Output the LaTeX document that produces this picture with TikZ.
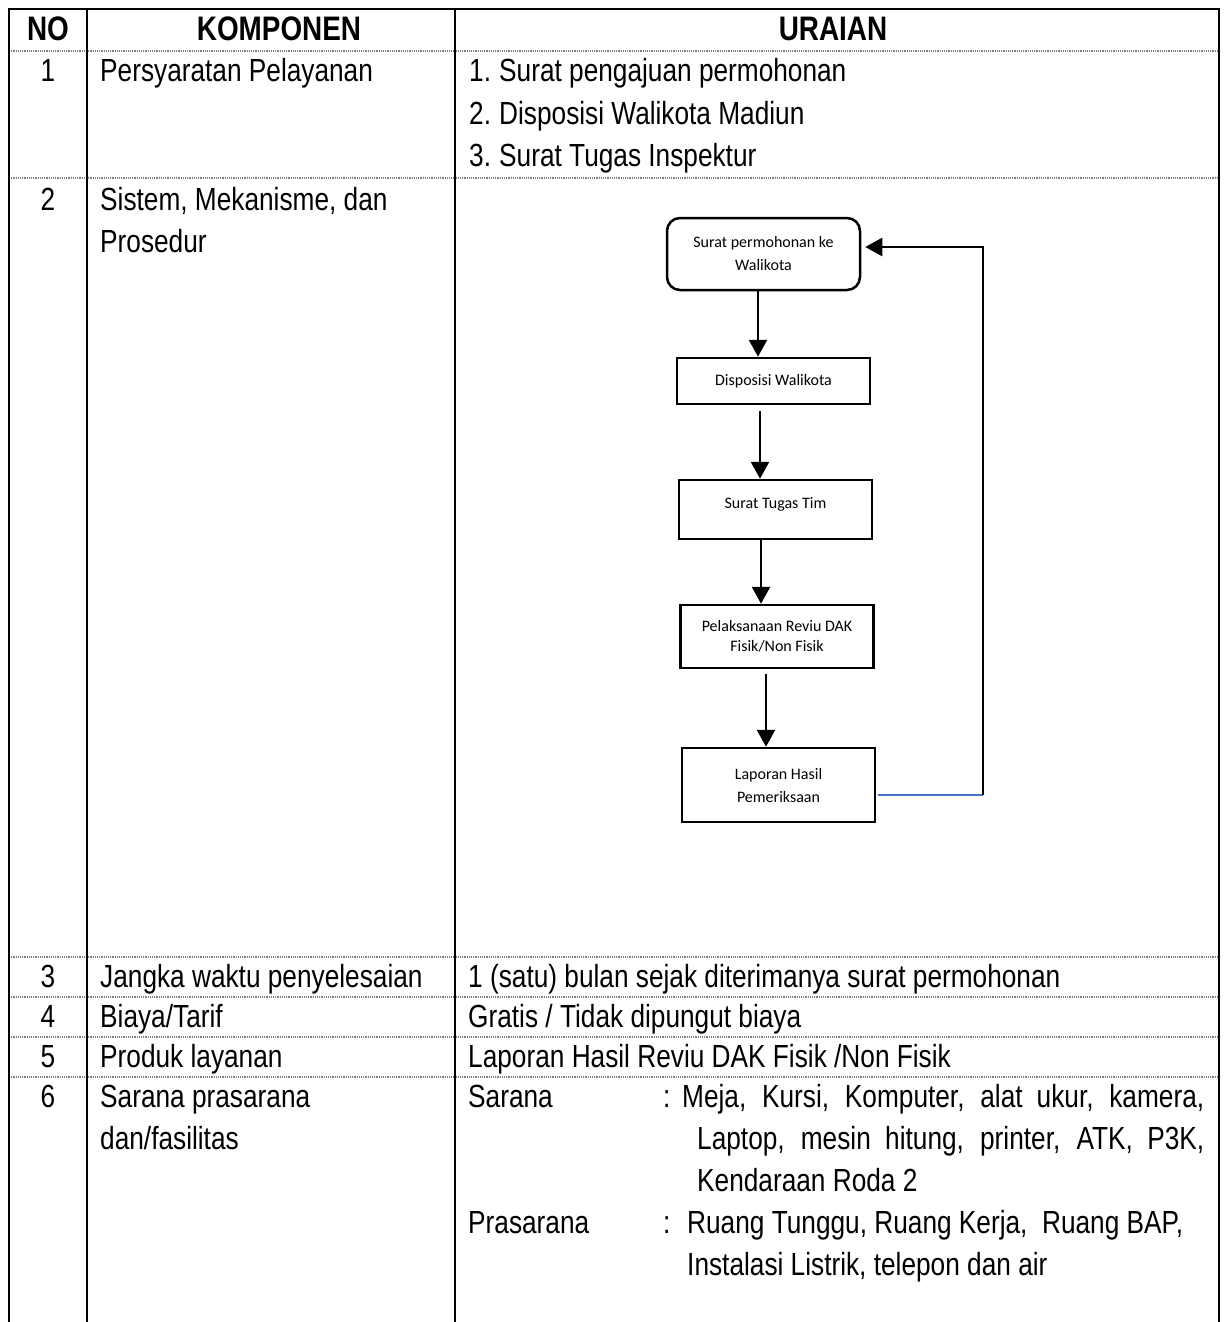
\documentclass[tikz,border=0pt]{standalone}
\usepackage{fontspec}
\setmainfont[FakeStretch=0.82]{Liberation Sans}
\newfontfamily\flowfont{Carlito}
\usepackage{xcolor}
\usetikzlibrary{arrows.meta, calc}
\definecolor{lineblue}{HTML}{4472C4}

\tikzset{
	cell/.style = {anchor=west, inner sep=0pt, text height=23pt, text depth=0pt, font=\fontsize{32}{38}\selectfont},
	numcell/.style = {cell, anchor=center},
	headcell/.style = {cell, anchor=center, font=\fontsize{34}{38}\selectfont\bfseries},
	rowline/.style = {gray, line width=1.1pt, dash pattern=on 1.1pt off 1.1pt},
	colline/.style = {line width=2.6pt},
	box/.style = {draw, line width=2.5pt, minimum width=193pt, align=center, inner sep=0pt, font=\flowfont\fontsize{16}{23}\selectfont},
	flow/.style = {line width=2.5pt, -{Triangle[width=18pt,length=17pt]}},
}

\begin{document}
\begin{tikzpicture}[x=1pt, y=-1pt]
			\useasboundingbox (0,0) rectangle (1223,1322);
			\def\xa{9};
			\def\xb{87};
			\def\xc{455};
			\def\xd{1219};
			
			% table
			\begin{scope}
				\foreach \yy in {51,178,957,997,1037,1077}
					\draw[rowline] (\xa,\yy) -- (\xd,\yy);
				\foreach \xx in {\xa,\xb,\xc,\xd}
					\draw[colline] (\xx,9) -- (\xx,1322);
				\draw[colline, line cap=rect] (\xa,9) -- (\xd,9);
			\end{scope}
			
			\node[headcell] (hno) at (48,29) {NO};
			\node[headcell] (hkomp) at (279,29) {KOMPONEN};
			\node[headcell] (hurai) at (833,29) {URAIAN};
			
			\node[numcell] (n1) at (48,70) {1};
			\node[cell] (k1) at (100,70) {Persyaratan Pelayanan};
			\node[cell] (u1a) at (469,70) {\makebox[30pt][l]{1.}Surat pengajuan permohonan};
			\node[cell] (u1b) at (469,113) {\makebox[30pt][l]{2.}Disposisi Walikota Madiun};
			\node[cell] (u1c) at (469,155) {\makebox[30pt][l]{3.}Surat Tugas Inspektur};
			
			\node[numcell] (n2) at (48,199) {2};
			\node[cell] (k2a) at (100,199) {Sistem, Mekanisme, dan};
			\node[cell] (k2b) at (100,241) {Prosedur};
			
			\node[numcell] (n3) at (48,976) {3};
			\node[cell] (k3) at (100,976) {Jangka waktu penyelesaian};
			\node[cell] (u3) at (468,976) {1 (satu) bulan sejak diterimanya surat permohonan};
			
			\node[numcell] (n4) at (48,1016) {4};
			\node[cell] (k4) at (100,1016) {Biaya/Tarif};
			\node[cell] (u4) at (468,1016) {Gratis / Tidak dipungut biaya};
			
			\node[numcell] (n5) at (48,1056) {5};
			\node[cell] (k5) at (100,1056) {Produk layanan};
			\node[cell] (u5) at (468,1056) {Laporan Hasil Reviu DAK Fisik /Non Fisik};
			
			\node[numcell] (n6) at (48,1096) {6};
			\node[cell] (k6a) at (100,1096) {Sarana prasarana};
			\node[cell] (k6b) at (100,1138) {dan/fasilitas};
			\node[cell] (sar) at (468,1096) {Sarana};
			\node[cell] (sarc) at (663,1096) {:};
			\node[cell] (sar1) at (682,1096) {\makebox[522pt][s]{Meja, Kursi, Komputer, alat ukur, kamera,}};
			\node[cell] (sar2) at (697,1138) {\makebox[507pt][s]{Laptop, mesin hitung, printer, ATK, P3K,}};
			\node[cell] (sar3) at (697,1180) {Kendaraan Roda 2};
			\node[cell] (pra) at (468,1222) {Prasarana};
			\node[cell] (prac) at (663,1222) {:};
			\node[cell] (pra1) at (687,1222) {Ruang Tunggu, Ruang Kerja,\ \ Ruang BAP,};
			\node[cell] (pra2) at (687,1264) {Instalasi Listrik, telepon dan air};
			
			% flowchart
			\node[box, rounded corners=13pt, minimum height=72pt] (surat) at (763.5,254) {Surat permohonan ke\\Walikota};
			\node[box, minimum height=46pt] (dispo) at (773.5,381) {Disposisi Walikota};
			\node[box, text height=28pt, text depth=31pt] (tugas) at (775.5,509.5) {Surat Tugas Tim};
			\node[box, minimum height=63pt, font=\flowfont\fontsize{16}{20}\selectfont] (reviu) at (777,636.5) {Pelaksanaan Reviu DAK\\Fisik/Non Fisik};
			\node[box, minimum height=74pt] (lhp) at (778.5,785) {Laporan Hasil\\Pemeriksaan};
			\coordinate (balik) at (983,795);
			
			\draw[flow] ([xshift=-5.5pt]surat.south) -- ([xshift=-5.5pt]surat.south |- dispo.north);
			\draw[flow] ([xshift=-13.5pt, yshift=-6pt]dispo.south) -- ([xshift=-13.5pt]dispo.south |- tugas.north);
			\draw[flow] ([xshift=-14.5pt]tugas.south) -- ([xshift=-14.5pt]tugas.south |- reviu.north);
			\draw[flow] ([xshift=-11pt, yshift=-5pt]reviu.south) -- ([xshift=-11pt]reviu.south |- lhp.north);
			\draw[lineblue, line width=1.2pt] ([xshift=2pt]lhp.east |- balik) -- (balik);
			\draw[flow, shorten >=4pt] (balik) |- ([yshift=7pt]surat.east);
			
		\end{tikzpicture}
\end{document}
